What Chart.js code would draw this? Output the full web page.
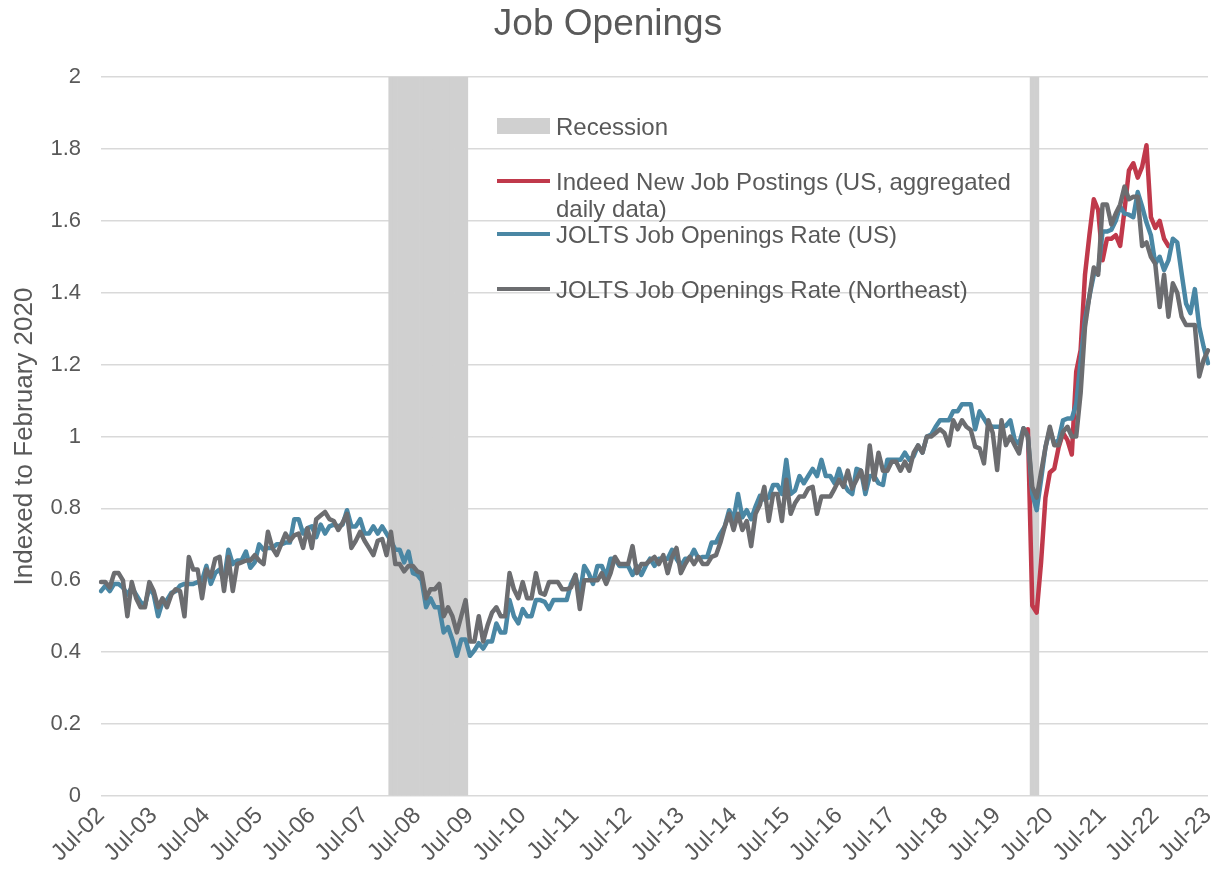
<!DOCTYPE html>
<html>
<head>
<meta charset="utf-8">
<script src="https://cdn.jsdelivr.net/npm/chart.js@4.4.0/dist/chart.umd.min.js"></script>
<style>
  html, body { margin: 0; padding: 0; background: #ffffff; }
  #wrap { position: relative; width: 1216px; height: 879px; }
  #legend { position: absolute; left: 0; top: 0; width: 1216px; height: 879px; pointer-events: none;
            font-family: "Liberation Sans", Arial, sans-serif; color: #595959; }
  .lg-sw { position: absolute; left: 497px; width: 53px; }
  .lg-tx { position: absolute; left: 556px; width: 480px; font-size: 24px; line-height: 27px; white-space: normal; }
</style>
</head>
<body>
<div id="wrap">
  <canvas id="c" width="1216" height="879"></canvas>
  <div id="legend"></div>
</div>
<script>
// ---------------- DATA ----------------
const startYear = 2002;          // first month: Jul-02
const startMonth = 6;            // 0 = Jan
const monthCount = 253;          // Jul-02 .. Jul-23
const tickLabels = ["Jul-02","Jul-03","Jul-04","Jul-05","Jul-06","Jul-07","Jul-08","Jul-09","Jul-10","Jul-11","Jul-12","Jul-13","Jul-14","Jul-15","Jul-16","Jul-17","Jul-18","Jul-19","Jul-20","Jul-21","Jul-22","Jul-23"];

const seriesNames = [
  "Recession",
  "Indeed New Job Postings (US, aggregated daily data)",
  "JOLTS Job Openings Rate (US)",
  "JOLTS Job Openings Rate (Northeast)"
];

// Recession periods (first month, last month)
const recessionPeriods = [["Jan-08", "Jun-09"], ["Mar-20", "Apr-20"]];
const recessionHeight = 2;

// JOLTS Job Openings Rate (US), indexed to Feb 2020, monthly Jul-02 .. Jul-23
const joltsUS = [
  0.57, 0.585, 0.57, 0.59, 0.59, 0.58, 0.56, 0.58, 0.56, 0.54, 0.53, 0.58,
  0.56, 0.50, 0.54, 0.545, 0.565, 0.57, 0.585, 0.59, 0.59, 0.59, 0.595, 0.60,
  0.64, 0.59, 0.62, 0.63, 0.60, 0.685, 0.645, 0.655, 0.655, 0.68, 0.635, 0.65,
  0.70, 0.685, 0.69, 0.69, 0.70, 0.70, 0.705, 0.705, 0.77, 0.77, 0.73, 0.745,
  0.75, 0.72, 0.755, 0.73, 0.75, 0.755, 0.75, 0.755, 0.795, 0.75, 0.75, 0.77,
  0.73, 0.73, 0.75, 0.73, 0.75, 0.73, 0.71, 0.685, 0.685, 0.65, 0.68, 0.62,
  0.615, 0.60, 0.525, 0.55, 0.525, 0.525, 0.455, 0.47, 0.435, 0.39, 0.435, 0.435,
  0.39, 0.405, 0.425, 0.41, 0.43, 0.43, 0.48, 0.455, 0.455, 0.545, 0.50, 0.48,
  0.52, 0.50, 0.50, 0.545, 0.545, 0.54, 0.52, 0.545, 0.545, 0.545, 0.545, 0.59,
  0.615, 0.56, 0.64, 0.62, 0.59, 0.64, 0.64, 0.61, 0.66, 0.66, 0.64, 0.64,
  0.64, 0.615, 0.64, 0.615, 0.64, 0.66, 0.64, 0.66, 0.66, 0.66, 0.685, 0.66,
  0.64, 0.66, 0.66, 0.685, 0.66, 0.665, 0.665, 0.705, 0.705, 0.73, 0.75, 0.795,
  0.77, 0.84, 0.775, 0.795, 0.77, 0.805, 0.835, 0.825, 0.83, 0.865, 0.865, 0.84,
  0.935, 0.84, 0.85, 0.89, 0.87, 0.89, 0.91, 0.89, 0.935, 0.89, 0.89, 0.87,
  0.91, 0.87, 0.85, 0.84, 0.91, 0.905, 0.84, 0.89, 0.89, 0.87, 0.865, 0.935,
  0.935, 0.935, 0.935, 0.955, 0.935, 0.945, 0.975, 0.955, 1.0, 1.005, 1.027, 1.045,
  1.045, 1.045, 1.07, 1.07, 1.09, 1.09, 1.09, 1.02, 1.07, 1.05, 1.03, 1.027,
  1.027, 1.027, 1.03, 1.045, 0.99, 0.98, 1.023, 1.0, 0.84, 0.795, 0.88, 0.97,
  1.02, 0.98, 0.99, 1.045, 1.05, 1.05, 1.09, 1.21, 1.325, 1.39, 1.45, 1.46,
  1.57, 1.57, 1.575, 1.6, 1.64, 1.62, 1.617, 1.61, 1.68, 1.64, 1.595, 1.56,
  1.48, 1.5, 1.463, 1.49, 1.55, 1.54, 1.453, 1.37, 1.343, 1.41, 1.305, 1.25,
  1.204
];

// JOLTS Job Openings Rate (Northeast), indexed to Feb 2020, monthly Jul-02 .. Jul-23
const joltsNE = [
  0.595, 0.595, 0.58, 0.62, 0.62, 0.60, 0.50, 0.595, 0.55, 0.525, 0.525, 0.595,
  0.57, 0.525, 0.55, 0.525, 0.56, 0.575, 0.57, 0.50, 0.665, 0.63, 0.63, 0.55,
  0.63, 0.61, 0.66, 0.665, 0.57, 0.665, 0.57, 0.645, 0.65, 0.655, 0.655, 0.67,
  0.655, 0.645, 0.735, 0.69, 0.67, 0.70, 0.73, 0.71, 0.725, 0.73, 0.69, 0.745,
  0.69, 0.77, 0.78, 0.79, 0.77, 0.765, 0.74, 0.76, 0.785, 0.69, 0.71, 0.735,
  0.71, 0.69, 0.67, 0.71, 0.715, 0.67, 0.735, 0.645, 0.645, 0.625, 0.64, 0.64,
  0.625, 0.62, 0.55, 0.575, 0.575, 0.59, 0.50, 0.525, 0.50, 0.455, 0.50, 0.545,
  0.43, 0.43, 0.50, 0.43, 0.475, 0.51, 0.525, 0.50, 0.50, 0.62, 0.575, 0.55,
  0.595, 0.55, 0.55, 0.62, 0.565, 0.56, 0.595, 0.595, 0.595, 0.575, 0.575, 0.58,
  0.615, 0.52, 0.60, 0.60, 0.60, 0.60, 0.62, 0.59, 0.62, 0.665, 0.645, 0.645,
  0.645, 0.695, 0.62, 0.645, 0.645, 0.655, 0.665, 0.645, 0.67, 0.62, 0.665, 0.69,
  0.62, 0.645, 0.665, 0.645, 0.665, 0.645, 0.645, 0.665, 0.67, 0.705, 0.75, 0.785,
  0.74, 0.785, 0.74, 0.765, 0.695, 0.785, 0.81, 0.86, 0.765, 0.84, 0.84, 0.765,
  0.88, 0.785, 0.815, 0.833, 0.833, 0.855, 0.86, 0.785, 0.833, 0.833, 0.833, 0.855,
  0.88, 0.86, 0.905, 0.855, 0.88, 0.905, 0.855, 0.975, 0.88, 0.955, 0.905, 0.905,
  0.93, 0.93, 0.905, 0.93, 0.905, 0.955, 0.975, 0.955, 1.0, 1.0, 1.01, 1.02,
  1.01, 0.975, 1.045, 1.02, 1.045, 1.027, 1.018, 0.972, 0.967, 0.925, 1.045, 1.01,
  0.907, 1.045, 0.976, 1.0, 0.976, 0.953, 1.023, 1.0, 0.86, 0.83, 0.90, 0.97,
  1.027, 0.976, 0.976, 1.013, 1.027, 1.0, 1.0, 1.12, 1.305, 1.39, 1.47, 1.45,
  1.645, 1.645, 1.59, 1.62, 1.645, 1.695, 1.66, 1.667, 1.667, 1.53, 1.54, 1.50,
  1.48, 1.36, 1.45, 1.333, 1.426, 1.40, 1.333, 1.31, 1.31, 1.31, 1.167, 1.213,
  1.24
];

// Indeed New Job Postings (US), indexed to Feb 2020, monthly from Feb-20
const indeedStart = "Feb-20";
const indeedUS = [
  1.02, 0.53, 0.51, 0.65, 0.83, 0.90, 0.91, 0.97, 1.01, 0.99, 0.95,
  1.18, 1.24, 1.45, 1.56, 1.66, 1.63, 1.49, 1.55, 1.55, 1.56, 1.53, 1.63,
  1.74, 1.76, 1.72, 1.75, 1.81, 1.61, 1.58, 1.60, 1.55, 1.53
];

const yTicks = { min: 0, max: 2, step: 0.2 };

// ---------------- BUILD ----------------
const MON = ["Jan","Feb","Mar","Apr","May","Jun","Jul","Aug","Sep","Oct","Nov","Dec"];
const categories = [];
for (let i = 0; i < monthCount; i++) {
  const k = startMonth + i;
  const yy = (startYear + Math.floor(k / 12)) % 100;
  categories.push(MON[k % 12] + "-" + String(yy).padStart(2, "0"));
}
const recessionData = categories.map(() => null);
recessionPeriods.forEach(([a, b]) => {
  const i0 = categories.indexOf(a), i1 = categories.indexOf(b);
  for (let i = i0; i <= i1; i++) recessionData[i] = recessionHeight;
});
const indeedData = categories.map(() => null);
const iStart = categories.indexOf(indeedStart);
indeedUS.forEach((v, j) => { indeedData[iStart + j] = v; });

const colors = {
  recession: "#D0D0D0",
  indeed: "#C0394B",
  us: "#4A87A4",
  ne: "#6C6D70",
  text: "#595959",
  grid: "#D9D9D9"
};
const FONT = "'Liberation Sans', Arial, sans-serif";

const lineDs = (label, data, color, order) => ({
  type: "line", label, data, borderColor: color, backgroundColor: color,
  borderWidth: 4.5, pointRadius: 0, pointHoverRadius: 0, tension: 0,
  spanGaps: false, order, borderJoinStyle: "round", borderCapStyle: "round", fill: false
});

const chart = new Chart(document.getElementById("c"), {
  type: "line",
  data: {
    labels: categories,
    datasets: [
      { type: "bar", label: seriesNames[0], data: recessionData, backgroundColor: colors.recession,
        borderWidth: 0, barPercentage: 1.0, categoryPercentage: 1.0, order: 4 },
      lineDs(seriesNames[1], indeedData, colors.indeed, 3),
      lineDs(seriesNames[2], joltsUS, colors.us, 2),
      lineDs(seriesNames[3], joltsNE, colors.ne, 1)
    ]
  },
  options: {
    responsive: false,
    animation: false,
    devicePixelRatio: 1,
    layout: { padding: { left: 0, right: 0, top: 0, bottom: 0 } },
    plugins: {
      legend: { display: false },
      tooltip: { enabled: false },
      title: {
        display: true, text: "Job Openings", color: colors.text,
        font: { family: FONT, size: 37, weight: "normal", lineHeight: 1.2 },
        padding: { top: 3, bottom: 29.6 }
      }
    },
    scales: {
      x: {
        type: "category",
        offset: false,
        grid: { display: false, drawTicks: false },
        border: { display: false },
        ticks: {
          autoSkip: false, maxRotation: 45, minRotation: 45, padding: 6,
          color: colors.text, font: { family: FONT, size: 23.5 },
          callback: function (val, idx) {
            const lab = categories[idx];
            return tickLabels.includes(lab) ? lab : null;
          }
        },
        afterFit: (s) => { s.height = 83; s.paddingRight = 8; }
      },
      y: {
        min: yTicks.min, max: yTicks.max,
        grid: { color: colors.grid, lineWidth: 1.5, drawTicks: false },
        border: { display: false },
        ticks: {
          stepSize: yTicks.step, padding: 20, color: colors.text,
          font: { family: FONT, size: 22 },
          callback: (v) => String(Math.round(v * 10) / 10)
        },
        title: {
          display: true, text: "Indexed to February 2020", color: colors.text,
          font: { family: FONT, size: 26, lineHeight: 1.2 }, padding: { top: 9, bottom: 0 }
        },
        afterFit: (s) => { s.width = 101; }
      }
    }
  }
});

// ---------------- HTML LEGEND (inside plot area) ----------------
const legendEl = document.getElementById("legend");
const legendRows = [
  { name: seriesNames[0], color: colors.recession, kind: "box", cy: 126 },
  { name: seriesNames[1], color: colors.indeed, kind: "line", cy: 181 },
  { name: seriesNames[2], color: colors.us, kind: "line", cy: 234 },
  { name: seriesNames[3], color: colors.ne, kind: "line", cy: 289 }
];
legendRows.forEach(r => {
  const sw = document.createElement("div");
  sw.className = "lg-sw";
  const h = r.kind === "box" ? 16 : 4.5;
  sw.style.top = (r.cy - h / 2) + "px";
  sw.style.height = h + "px";
  sw.style.background = r.color;
  legendEl.appendChild(sw);
  const tx = document.createElement("div");
  tx.className = "lg-tx";
  tx.style.top = (r.cy - 13.5) + "px";
  tx.textContent = r.name;
  legendEl.appendChild(tx);
});
</script>
</body>
</html>
